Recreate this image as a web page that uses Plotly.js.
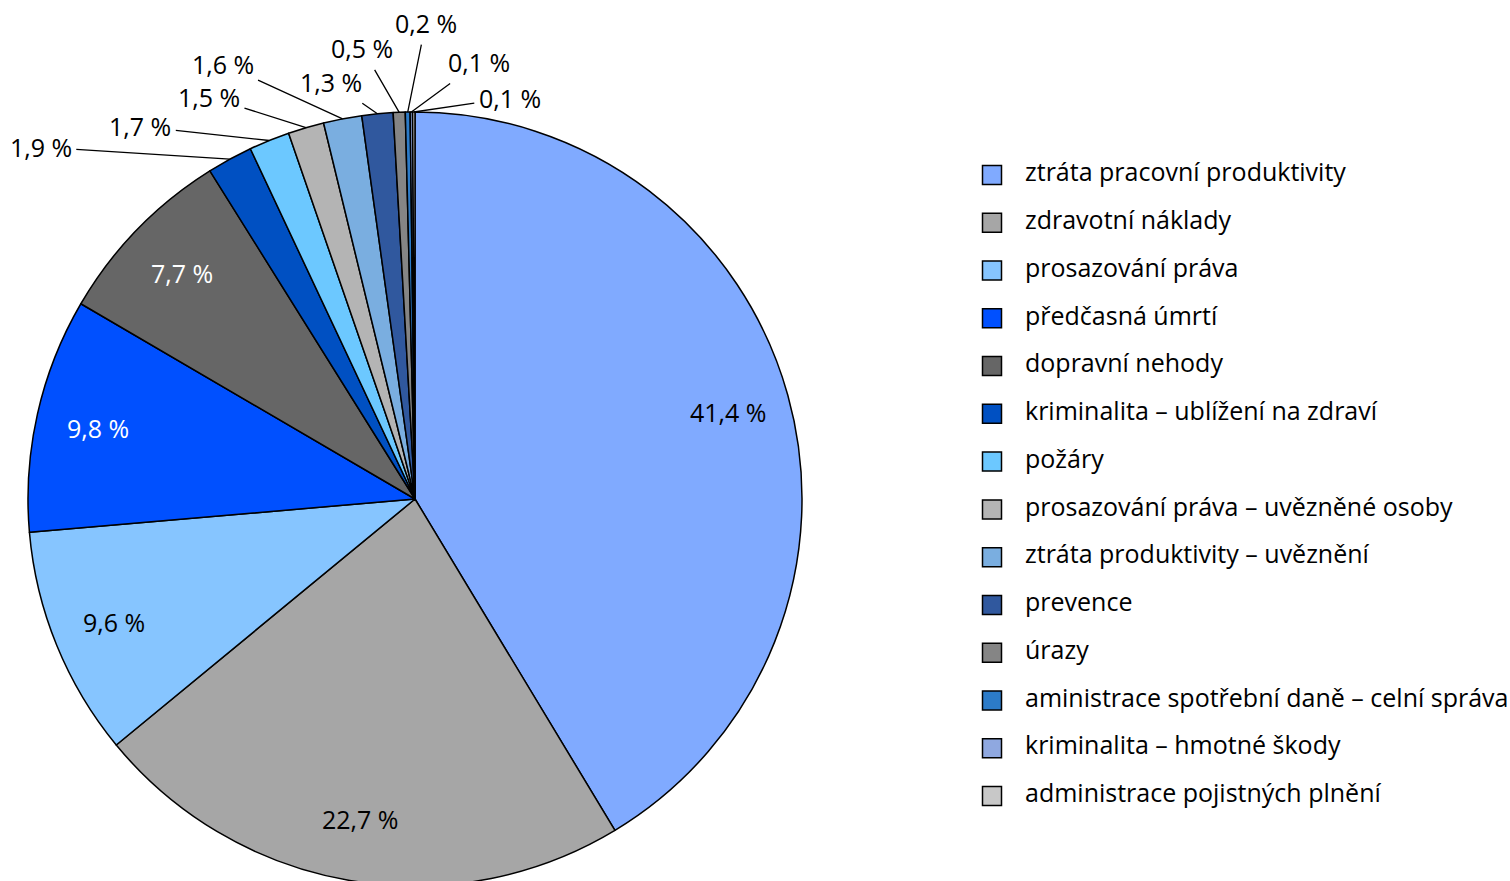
<!DOCTYPE html>
<html>
<head>
<meta charset="utf-8">
<script src="https://cdn.plot.ly/plotly-3.0.1.min.js"></script>
<style>
html, body { margin: 0; padding: 0; overflow: hidden; background: #fff; }
#chart { width: 1510px; height: 998px; }
</style>
</head>
<body>
<div id="chart"></div>
<script>
var categories = [
  "ztráta pracovní produktivity",
  "zdravotní náklady",
  "prosazování práva",
  "předčasná úmrtí",
  "dopravní nehody",
  "kriminalita – ublížení na zdraví",
  "požáry",
  "prosazování práva – uvězněné osoby",
  "ztráta produktivity – uvěznění",
  "prevence",
  "úrazy",
  "aministrace spotřební daně – celní správa",
  "kriminalita – hmotné škody",
  "administrace pojistných plnění"
];
var values = [41.4, 22.7, 9.6, 9.8, 7.7, 1.9, 1.7, 1.5, 1.6, 1.3, 0.5, 0.2, 0.1, 0.1];
var colors = [
  "#80AAFF", "#A6A6A6", "#86C5FF", "#0050FF", "#666666", "#0050C2", "#6CC8FF",
  "#B4B4B4", "#7AAEE0", "#30589E", "#858585", "#2C7BC8", "#8FA8E0", "#C8C8C8"
];

var FONT = "Open Sans, Noto Sans, sans-serif";
var FS = 25;
var labelText = values.map(function (v) { return v.toFixed(1).replace('.', ',') + ' %'; });
var labelColors = colors.map(function (c) { return (c === "#0050FF" || c === "#666666") ? "#ffffff" : "#000000"; });
// pixel offsets of the callout texts for the thin slices (label placement style)
var calloutOffsets = {
  5: [-189, -12], 6: [-129, -14], 7: [-97, -31], 8: [-120, -55], 9: [-46, -32],
  10: [-37, -64], 11: [18, -89], 12: [68, -50], 13: [96, -14]
};

var W = 1510, H = 998;
var PIE_CX = 415, PIE_CY = 499, PIE_R = 387;

var pie = {
  type: 'pie',
  values: values,
  labels: categories,
  textinfo: 'none',
  marker: { colors: colors, line: { color: '#000', width: 1.5 } },
  sort: false,
  direction: 'clockwise',
  rotation: 0,
  hoverinfo: 'label+percent',
  showlegend: false,
  domain: { x: [(PIE_CX - PIE_R) / W, (PIE_CX + PIE_R) / W], y: [0, 1] }
};

// slice labels, placed at each slice's mid-angle
var total = values.reduce(function (a, b) { return a + b; }, 0);
var cxP = PIE_CX / W, cyP = 1 - PIE_CY / H, rxP = PIE_R / W, ryP = PIE_R / H;
var cum = 0;
var annotations = values.map(function (v, i) {
  var mid = (cum + v / 2) / total;
  cum += v;
  var a = mid * 2 * Math.PI, s = Math.sin(a), c = Math.cos(a);
  if (!calloutOffsets[i]) {
    return {
      xref: 'paper', yref: 'paper', x: cxP + 0.84 * rxP * s, y: cyP + 0.84 * ryP * c,
      text: labelText[i], showarrow: false, xanchor: 'center', yanchor: 'middle',
      font: { family: FONT, size: FS, color: labelColors[i] }
    };
  }
  return {
    xref: 'paper', yref: 'paper', x: cxP + rxP * s, y: cyP + ryP * c,
    text: labelText[i], showarrow: true, arrowhead: 0, arrowwidth: 1.3, arrowcolor: '#000',
    ax: calloutOffsets[i][0], ay: calloutOffsets[i][1], standoff: 0, borderpad: 4,
    font: { family: FONT, size: FS, color: '#000' }
  };
});

var legendMarkers = {
  type: 'scatter',
  mode: 'markers',
  x: categories.map(function () { return 992; }),
  y: categories,
  xaxis: 'x2', yaxis: 'y2',
  marker: { symbol: 'square', size: 19, color: colors, line: { color: '#000', width: 1.5 } },
  hoverinfo: 'skip',
  showlegend: false
};
var legendText = {
  type: 'scatter',
  mode: 'text',
  x: categories.map(function () { return 1025; }),
  y: categories,
  text: categories,
  textposition: 'middle right',
  textfont: { family: FONT, size: FS, color: '#000' },
  xaxis: 'x2', yaxis: 'y2',
  hoverinfo: 'skip',
  showlegend: false
};

var rowTop = 175, rowBottom = 796;
var step = (rowBottom - rowTop) / (categories.length - 1);

var layout = {
  width: W,
  height: H,
  margin: { l: 0, r: 0, t: 0, b: 0 },
  paper_bgcolor: '#fff',
  plot_bgcolor: 'rgba(0,0,0,0)',
  showlegend: false,
  font: { family: FONT, size: FS, color: '#000' },
  annotations: annotations,
  xaxis2: { domain: [906 / W, 1], range: [906, 1510], visible: false, fixedrange: true, anchor: 'y2' },
  yaxis2: {
    domain: [1 - (rowBottom + step / 2) / H, 1 - (rowTop - step / 2) / H],
    type: 'category', categoryorder: 'array', categoryarray: categories,
    range: [categories.length - 0.5, -0.5],
    visible: false, fixedrange: true, anchor: 'x2'
  }
};

Plotly.newPlot('chart', [pie, legendMarkers, legendText], layout, { displayModeBar: false, staticPlot: true });
</script>
</body>
</html>
